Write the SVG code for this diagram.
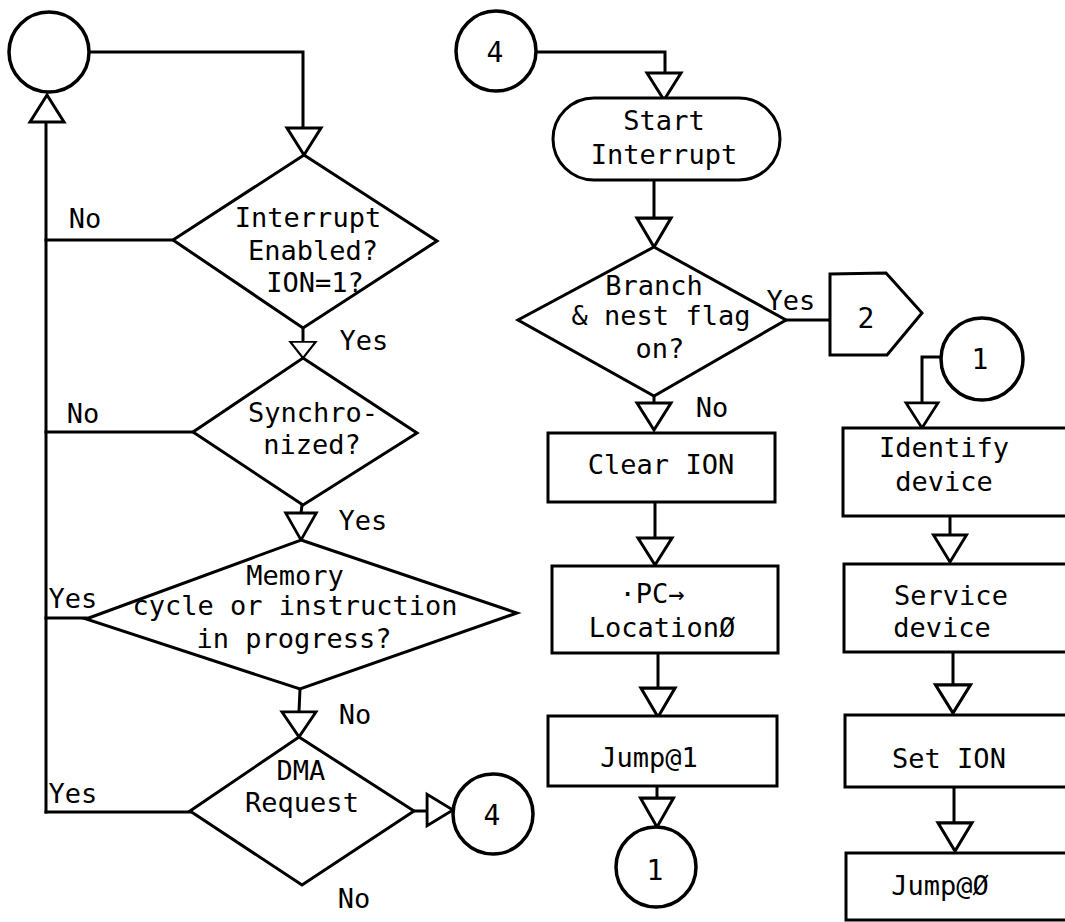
<svg xmlns="http://www.w3.org/2000/svg" width="1065" height="922" viewBox="0 0 1065 922">
  <style>
    .shape { fill: #fff; stroke: #000; stroke-width: 3; stroke-linejoin: miter; }
    .ring { fill: #fff; stroke: #000; stroke-width: 3.5; }
    .wire { fill: none; stroke: #000; stroke-width: 3; stroke-linecap: square; }
    .head { fill: #fff; stroke: #000; stroke-width: 3; stroke-linejoin: miter; }
    text { font-family: "DejaVu Sans Mono", "Liberation Mono", monospace; font-size: 27px; fill: #000; text-anchor: middle; }
    .num { font-size: 28px; }
  </style>
  <defs>
    <!-- open arrowhead, apex at the origin pointing down -->
    <polygon id="tri" points="-17,-27 17,-27 0,0"/>
  </defs>

  <rect width="1065" height="922" fill="#fff"/>

  <!-- connectors -->
  <g id="connectors">
    <polyline class="wire" points="90,52 303,52 303,128"/>
    <line class="wire" x1="46" y1="122" x2="46" y2="812"/>
    <line class="wire" x1="173" y1="240" x2="46" y2="240"/>
    <line class="wire" x1="193" y1="432" x2="46" y2="432"/>
    <line class="wire" x1="86" y1="618" x2="46" y2="618"/>
    <line class="wire" x1="190" y1="812" x2="46" y2="812"/>
    <line class="wire" x1="303" y1="328" x2="303" y2="342"/>
    <line class="wire" x1="302" y1="505" x2="301" y2="513"/>
    <line class="wire" x1="300" y1="689" x2="299" y2="712"/>
    <line class="wire" x1="414" y1="811" x2="427" y2="811"/>
    <polyline class="wire" points="536,52 665,52 665,73"/>
    <line class="wire" x1="654" y1="180" x2="654" y2="218"/>
    <line class="wire" x1="786" y1="320" x2="830" y2="320"/>
    <line class="wire" x1="654" y1="396" x2="654" y2="403"/>
    <line class="wire" x1="655" y1="502" x2="655" y2="538"/>
    <line class="wire" x1="658" y1="653" x2="658" y2="688"/>
    <line class="wire" x1="657" y1="786" x2="657" y2="798"/>
    <polyline class="wire" points="941,357 922,357 922,403"/>
    <line class="wire" x1="950" y1="516" x2="950" y2="535"/>
    <line class="wire" x1="953" y1="652" x2="953" y2="685"/>
    <line class="wire" x1="954" y1="787" x2="954" y2="823"/>

    <use href="#tri" class="head" transform="translate(47,95) rotate(180)"/>
    <use href="#tri" class="head" transform="translate(304,155)"/>
    <use href="#tri" class="head" transform="translate(303,358) scale(0.75,0.6)"/>
    <use href="#tri" class="head" transform="translate(301,540) scale(0.9,1)"/>
    <use href="#tri" class="head" transform="translate(299,737) scale(1,0.93)"/>
    <use href="#tri" class="head" transform="translate(453,810) rotate(-90) scale(0.92,0.96)"/>
    <use href="#tri" class="head" transform="translate(664,100)"/>
    <use href="#tri" class="head" transform="translate(654,247) scale(1,1.07)"/>
    <use href="#tri" class="head" transform="translate(654,430)"/>
    <use href="#tri" class="head" transform="translate(655,565)"/>
    <use href="#tri" class="head" transform="translate(658,717) scale(1,1.07)"/>
    <use href="#tri" class="head" transform="translate(657,827) scale(0.97,1.07)"/>
    <use href="#tri" class="head" transform="translate(922,428) scale(0.94,0.93)"/>
    <use href="#tri" class="head" transform="translate(950,562) scale(0.97,1)"/>
    <use href="#tri" class="head" transform="translate(953,713) scale(1.03,1.04)"/>
    <use href="#tri" class="head" transform="translate(955,851) scale(1,1.04)"/>
  </g>

  <!-- main loop -->
  <g id="loop-start">
    <circle class="ring" cx="49" cy="52" r="40"/>
  </g>

  <g id="interrupt-enabled">
    <polygon class="shape" points="304,155 437,241 303,328 173,240"/>
    <text x="308" y="227">Interrupt</text>
    <text x="313" y="260">Enabled?</text>
    <text x="315" y="292">ION=1?</text>
    <text x="85" y="228">No</text>
    <text x="364" y="350">Yes</text>
  </g>

  <g id="synchronized">
    <polygon class="shape" points="303,358 417,433 303,505 193,432"/>
    <text x="313" y="422">Synchro-</text>
    <text x="312" y="454">nized?</text>
    <text x="83" y="423">No</text>
    <text x="363" y="530">Yes</text>
  </g>

  <g id="memory-cycle">
    <polygon class="shape" points="301,540 517,613 300,689 86,619"/>
    <text x="295" y="585">Memory</text>
    <text x="295" y="615">cycle or instruction</text>
    <text x="294" y="648">in progress?</text>
    <text x="73" y="608">Yes</text>
    <text x="355" y="724">No</text>
  </g>

  <g id="dma-request">
    <polygon class="shape" points="299,737 414,811 302,885 190,811"/>
    <text x="301" y="780">DMA</text>
    <text x="302" y="812">Request</text>
    <text x="73" y="803">Yes</text>
    <text x="354" y="908">No</text>
  </g>

  <g id="goto-4">
    <circle class="ring" cx="493" cy="814" r="40"/>
    <text class="num" x="492" y="825">4</text>
  </g>

  <!-- interrupt entry -->
  <g id="entry-4">
    <circle class="ring" cx="496" cy="51" r="40"/>
    <text class="num" x="495" y="62">4</text>
  </g>

  <g id="start-interrupt">
    <rect class="shape" x="553" y="98" width="227" height="82" rx="41" ry="41"/>
    <text x="664" y="130">Start</text>
    <text x="664" y="164">Interrupt</text>
  </g>

  <g id="branch-nest">
    <polygon class="shape" points="654,247 786,320 654,396 518,320"/>
    <text x="654" y="295">Branch</text>
    <text x="661" y="325">&amp; nest flag</text>
    <text x="660" y="358">on?</text>
    <text x="791" y="310">Yes</text>
    <text x="712" y="417">No</text>
  </g>

  <g id="offpage-2">
    <polygon class="shape" points="830,274 886,273 922,313 887,355 830,355"/>
    <text class="num" x="866" y="328">2</text>
  </g>

  <g id="clear-ion">
    <rect class="shape" x="548" y="433" width="227" height="69"/>
    <text x="661" y="474">Clear ION</text>
  </g>

  <g id="pc-location">
    <rect class="shape" x="552" y="566" width="226" height="87"/>
    <text x="652" y="603">·PC→</text>
    <text x="662" y="637">LocationØ</text>
  </g>

  <g id="jump-1">
    <rect class="shape" x="548" y="716" width="229" height="70"/>
    <text x="649" y="767">Jump@1</text>
  </g>

  <g id="goto-1">
    <circle class="ring" cx="656" cy="867" r="40"/>
    <text class="num" x="655" y="880">1</text>
  </g>

  <!-- device service -->
  <g id="entry-1">
    <circle class="ring" cx="982" cy="359" r="41"/>
    <text class="num" x="980" y="369">1</text>
  </g>

  <g id="identify-device">
    <rect class="shape" x="843" y="428" width="240" height="88"/>
    <text x="944" y="457">Identify</text>
    <text x="944" y="491">device</text>
  </g>

  <g id="service-device">
    <rect class="shape" x="844" y="564" width="240" height="88"/>
    <text x="951" y="605">Service</text>
    <text x="942" y="637">device</text>
  </g>

  <g id="set-ion">
    <rect class="shape" x="845" y="715" width="240" height="72"/>
    <text x="949" y="768">Set ION</text>
  </g>

  <g id="jump-0">
    <rect class="shape" x="846" y="853" width="240" height="67"/>
    <text x="940" y="895">Jump@Ø</text>
  </g>
</svg>
